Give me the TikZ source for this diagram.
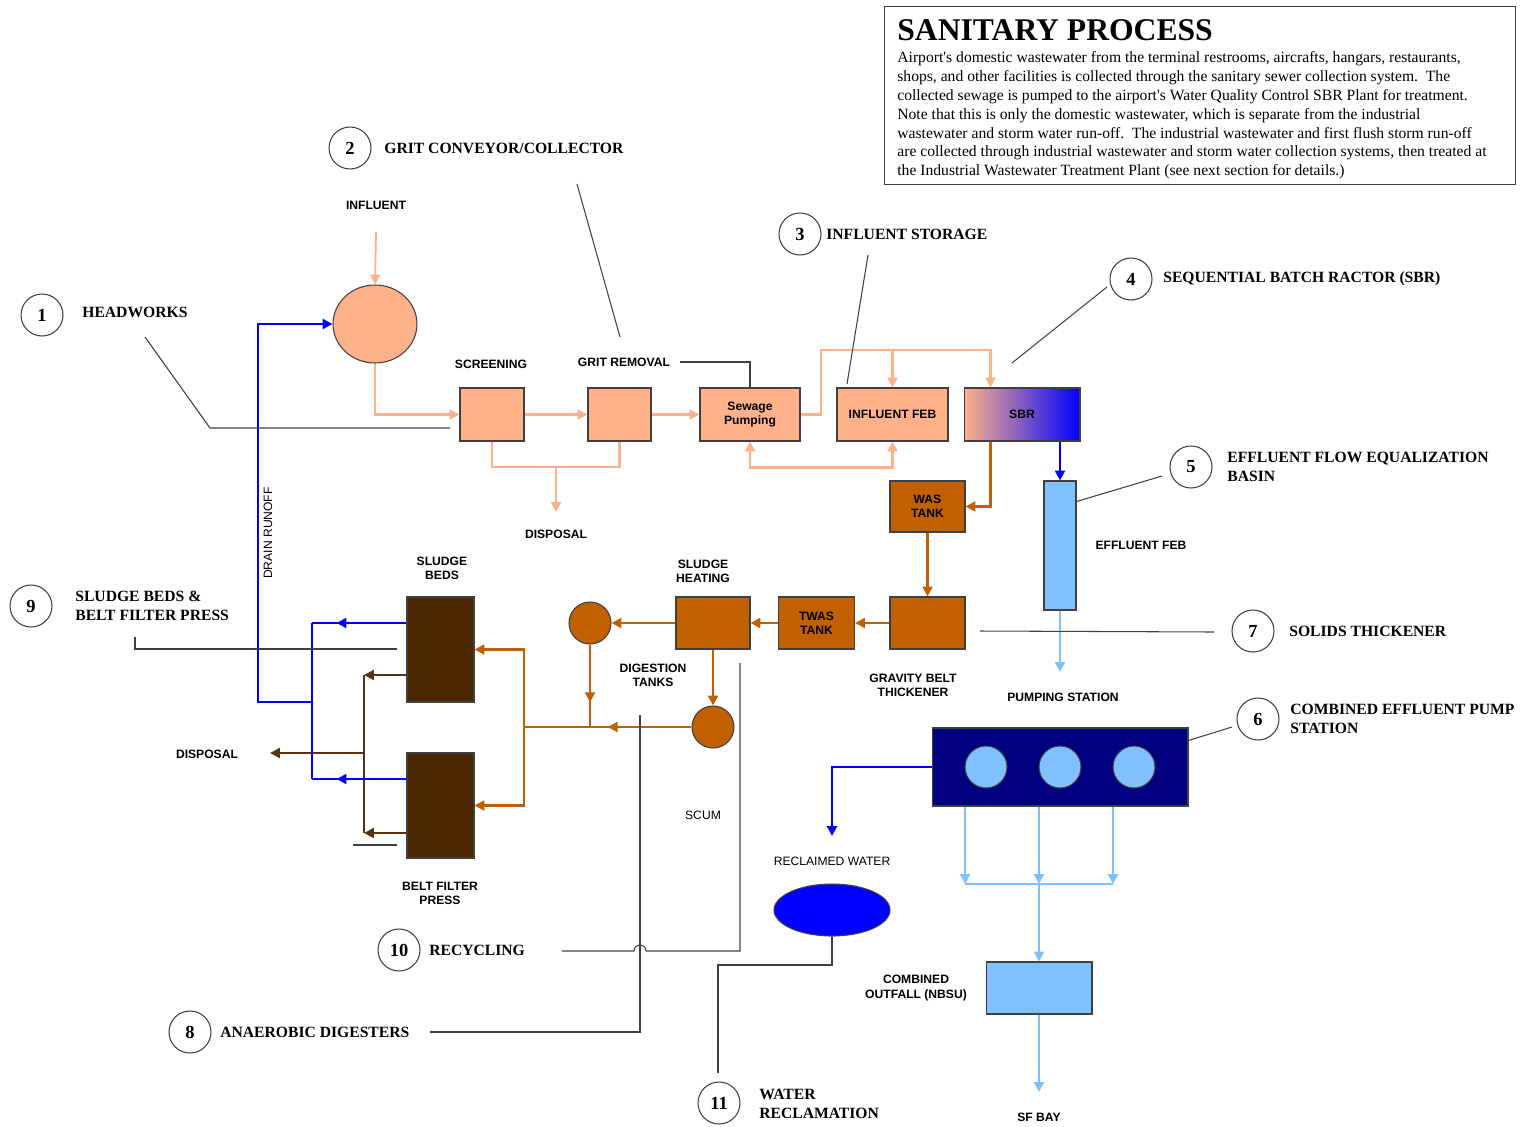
\documentclass[tikz,border=0pt]{standalone}
\usepackage{fontspec}
\setmainfont{Liberation Serif}
\setsansfont{Liberation Sans}
\usepackage{tikz}
\usetikzlibrary{shapes.geometric, arrows.meta, positioning, calc, decorations.markings}
\usepackage{xcolor}
\definecolor{peach}{HTML}{FFB18A}
\definecolor{rust}{HTML}{C06000}
\definecolor{sludge}{HTML}{4A2600}
\definecolor{mud}{HTML}{5A3212}
\definecolor{sky}{HTML}{80C0FF}
\definecolor{deepnavy}{HTML}{000080}
\definecolor{pureblue}{HTML}{0000FF}
\definecolor{edge}{HTML}{404040}

\tikzset{
    lbl/.style={inner sep=0pt, align=center, font=\sffamily\bfseries\fontsize{6.9}{8}\selectfont},
    plainlbl/.style={inner sep=0pt, align=center, font=\sffamily\fontsize{6.9}{8}\selectfont},
    proc/.style={draw=edge, line width=0.6pt, inner sep=0pt, align=center, font=\sffamily\bfseries\fontsize{6.9}{8}\selectfont},
    callnum/.style={circle, draw=edge, line width=0.6pt, minimum size=0.84cm, inner sep=0pt, font=\bfseries\fontsize{10.5}{12}\selectfont},
    calltext/.style={anchor=west, align=left, inner sep=0pt, font=\bfseries\fontsize{8.9}{10.4}\selectfont},
    leader/.style={draw=edge, line width=0.6pt},
    peachflow/.style={peach, line width=1.6pt},
    rustflow/.style={rust, line width=1.6pt},
    mudflow/.style={mud, line width=1.6pt},
    blueflow/.style={pureblue, line width=1.6pt},
    skyflow/.style={sky, line width=1.6pt},
    midtip/.style={postaction={decorate}, decoration={markings, mark=at position #1 with {\arrow{>}}}}
}

\begin{document}
\begin{tikzpicture}[x=0.02cm, y=-0.02cm, >={Triangle[length=5.6pt, width=5.6pt]}]
\useasboundingbox (0,0) rectangle (1520,1126);

% description box
\node[draw=edge, line width=0.6pt, minimum width=12.62cm, minimum height=3.56cm, anchor=north west] (frame) at (884,6) {};
\node[anchor=base west, inner sep=0pt, font=\bfseries\fontsize{18}{20}\selectfont] (ttl) at ($(frame.north west)+(13,34)$) {SANITARY PROCESS};
\node[anchor=north west, align=left, inner sep=0pt, font=\fontsize{8.9}{10.77}\selectfont] (desc) at ($(frame.north west)+(13,45)$) {Airport\textquotesingle s domestic wastewater from the terminal restrooms, aircrafts, hangars, restaurants,\\
shops, and other facilities is collected through the sanitary sewer collection system.\ \ The\\
collected sewage is pumped to the airport\textquotesingle s Water Quality Control SBR Plant for treatment.\\
Note that this is only the domestic wastewater, which is separate from the industrial\\
wastewater and storm water run-off.\ \ The industrial wastewater and first flush storm run-off\\
are collected through industrial wastewater and storm water collection systems, then treated at\\
the Industrial Wastewater Treatment Plant (see next section for details.)};

% headworks and influent storage
\node[ellipse, draw=edge, line width=0.6pt, fill=peach, minimum width=1.68cm, minimum height=1.56cm] (infl) at (375,324) {};
\node[proc, fill=peach, minimum width=1.28cm, minimum height=1.06cm] (scr) at (492,414.5) {};
\node[proc, fill=peach, minimum width=1.26cm, minimum height=1.06cm] (grit) at (619.5,414.5) {};
\node[proc, fill=peach, minimum width=2cm, minimum height=1.06cm] (pump) at (750,414.5) {Sewage\\Pumping};
\node[proc, fill=peach, minimum width=2.22cm, minimum height=1.06cm] (ifeb) at (892.5,414.5) {INFLUENT FEB};
\node[proc, left color=peach, right color=pureblue, minimum width=2.32cm, minimum height=1.06cm] (sbr) at (1022,414.5) {SBR};

% solids line
\node[proc, fill=rust, minimum width=1.5cm, minimum height=1.02cm] (was) at (927.5,506.5) {WAS\\TANK};
\node[proc, fill=rust, minimum width=1.5cm, minimum height=1.04cm] (gbt) at (927.5,623) {};
\node[proc, fill=rust, minimum width=1.52cm, minimum height=1.04cm] (twas) at (816.5,623) {TWAS\\TANK};
\node[proc, fill=rust, minimum width=1.48cm, minimum height=1.04cm] (heat) at (713,623) {};
\node[circle, draw=edge, line width=0.6pt, fill=rust, minimum size=0.84cm] (dig1) at (590,623) {};
\node[circle, draw=edge, line width=0.6pt, fill=rust, minimum size=0.84cm] (dig2) at (713,727) {};
\node[proc, fill=sludge, minimum width=1.34cm, minimum height=2.1cm] (bed1) at (440.5,649.5) {};
\node[proc, fill=sludge, minimum width=1.34cm, minimum height=2.1cm] (bed2) at (440.5,805.5) {};

% effluent line
\node[proc, fill=sky, minimum width=0.64cm, minimum height=2.58cm] (efeb) at (1060,545.5) {};
\node[proc, fill=deepnavy, minimum width=5.12cm, minimum height=1.56cm] (pst) at (1060,767) {};
\foreach \x/\n in {986/pa, 1060/pb, 1134/pc}
    \node[circle, draw=edge, line width=0.6pt, fill=sky, minimum size=0.84cm] (\n) at (\x,767) {};
\node[proc, fill=sky, minimum width=2.12cm, minimum height=1.04cm] (outf) at (1039,988) {};
\node[ellipse, draw=edge, line width=0.6pt, fill=pureblue, minimum width=2.32cm, minimum height=1.04cm] (recl) at (832,910) {};

% labels
\node[lbl] (inflab) at (376,205) {INFLUENT};
\node[lbl] (scrlab) at (491,364) {SCREENING};
\node[lbl] (grlab) at (624,362) {GRIT REMOVAL};
\node[lbl] (dsplab) at (556,534) {DISPOSAL};
\node[lbl] (efeblab) at (1141,545) {EFFLUENT FEB};
\node[lbl] (bedlab) at (442,568) {SLUDGE\\BEDS};
\node[lbl] (heatlab) at (703,571) {SLUDGE\\HEATING};
\node[lbl] (diglab) at (653,675) {DIGESTION\\TANKS};
\node[lbl] (gbtlab) at (913,685) {GRAVITY BELT\\THICKENER};
\node[lbl] (pstlab) at (1063,697) {PUMPING STATION};
\node[lbl] (dsp2lab) at (207,754) {DISPOSAL};
\node[lbl] (bfplab) at (440,893) {BELT FILTER\\PRESS};
\node[lbl] (outflab) at (916,988) {COMBINED\\OUTFALL (NBSU)};
\node[lbl] (sfblab) at (1039,1117) {SF BAY};
\node[plainlbl] (scumlab) at (703,815) {SCUM};
\node[plainlbl] (recllab) at (832,861) {RECLAIMED WATER};
\node[plainlbl, rotate=90] (drlab) at (268,533) {DRAIN RUNOFF};

% free ends
\coordinate (infsrc) at (376,232);
\coordinate (dspjoin) at (556,467);
\coordinate (dspend) at (556,512);
\coordinate (ptop) at (821,350);
\coordinate (pstend) at (1060,672);
\coordinate (obus) at (524,727);
\coordinate (bb1) at (312,623);
\coordinate (bb2) at (312,779);
\coordinate (drn) at (258,702);
\coordinate (db1) at (364,675);
\coordinate (db2) at (364,833);
\coordinate (dspl) at (270,753);
\coordinate (rcw) at (832,836);
\coordinate (sfb) at (1039,1092);
\foreach \x/\n in {965/la, 1039/lb, 1113/lc}
    \coordinate (\n) at (\x,884);

% influent flow
\draw[peach, line width=1pt, ->] (infsrc) -- (infl.north);
\draw[peachflow, ->] (infl.south) |- (scr.west);
\draw[peachflow, ->] (scr.east) -- (grit.west);
\draw[peachflow, ->] (grit.east) -- (pump.west);
\draw[peachflow] (scr.south) |- (dspjoin) -| (grit.south);
\draw[peachflow, ->] (dspjoin) -- (dspend);
\draw[peachflow, ->] (pump.east) -| (ptop) -| ($(sbr.north west)+(27,0)$);
\draw[peachflow, ->] (ifeb.north |- ptop) -- (ifeb.north);
\draw[peachflow, <->] (pump.south) -- ++(0,26) -| (ifeb.south);

% sludge flow
\draw[rustflow, ->] ($(sbr.south west)+(27,0)$) |- (was.east);
\draw[rustflow, ->] (was.south) -- (gbt.north);
\draw[rustflow, ->] (gbt.west) -- (twas.east);
\draw[rustflow, ->] (twas.west) -- (heat.east);
\draw[rustflow, ->] (heat.west) -- (dig1.east);
\draw[rustflow, ->] (heat.south) -- (dig2.north);
\draw[rustflow, midtip=0.7] (dig1.south) -- (dig1.south |- obus);
\draw[rustflow, midtip=0.5] (dig2.west) -- (obus);
\draw[rustflow, ->] (obus) |- (bed1.east);
\draw[rustflow, ->] (obus) |- (bed2.east);
\draw[mudflow, ->] (bed1.west |- db1) -- (db1);
\draw[mudflow, ->] (bed2.west |- db2) -- (db2);
\draw[mudflow] (db1) -- (db2);
\draw[mudflow, ->] (db1 |- dspl) -- (dspl);
\draw[blueflow, midtip=0.74] (bed1.west |- bb1) -- (bb1);
\draw[blueflow, midtip=0.74] (bed2.west |- bb2) -- (bb2);
\draw[blueflow] (bb1) -- (bb2);
\draw[blueflow, ->] (bb1 |- drn) -- (drn) |- (infl.west);

% effluent flow
\draw[blueflow, ->] (efeb.north |- sbr.south) -- (efeb.north);
\draw[skyflow, ->] (efeb.south) -- (pstend);
\foreach \n in {la, lb, lc}
    \draw[skyflow, ->] (pst.south -| \n) -- (\n);
\draw[skyflow] (la) -- (lc);
\draw[skyflow, ->] (lb) -- (outf.north);
\draw[skyflow, ->] (outf.south) -- (sfb);
\draw[blueflow, ->] (pst.west) -| (rcw);

% callouts
\foreach \n/\x/\y in {1/42/315, 2/350/148, 3/800/234, 4/1131/279, 5/1191/467, 6/1258/719, 7/1253/631, 8/190/1032, 9/31/606, 10/399/950, 11/719/1103}
    \node[callnum] (c\n) at (\x,\y) {\n};
\node[calltext] (t1) at (82,312) {HEADWORKS};
\node[calltext] (t2) at (384,148) {GRIT CONVEYOR/COLLECTOR};
\node[calltext] (t3) at (826,234) {INFLUENT STORAGE};
\node[calltext] (t4) at (1163,279) {SEQUENTIAL BATCH RACTOR (SBR)};
\node[calltext] (t5) at (1227,467) {EFFLUENT FLOW EQUALIZATION\\BASIN};
\node[calltext] (t6) at (1290,719) {COMBINED EFFLUENT PUMP\\STATION};
\node[calltext] (t7) at (1289,631) {SOLIDS THICKENER};
\node[calltext] (t8) at (220,1032) {ANAEROBIC DIGESTERS};
\node[calltext] (t9) at (75,606) {SLUDGE BEDS \&\\BELT FILTER PRESS};
\node[calltext] (t10) at (429,950) {RECYCLING};
\node[calltext] (t11) at (759,1104) {WATER\\RECLAMATION};

% leader lines
\draw[leader] (145,337) -- (210,428) -- (450,428);
\draw[leader] (577,184) -- (620,337);
\draw[leader] (868,255) -- (847,384);
\draw[leader] (1107,287) -- (1012,363);
\draw[leader] (1162,476) -- ($(efeb.north east)+(0,21)$);
\draw[leader] (1232,727) -- ($(pst.north east)+(0,13)$);
\draw[leader] (1214,632) -- (980,631);
\draw[leader] (430,1032) -| (640,715);
\draw[leader] (135,637) |- (397,649);
\draw[leader] (353,845) -- (397,845);
\draw[leader] (562,951) -- (634,951) arc[start angle=180, end angle=0, radius=0.12cm] -- (740,951) -- (740,663);
\draw[leader] (718,1073) |- (832,965) -- (recl.south);
\draw[leader] ($(grlab.east)+(10,0)$) -| (pump.north);
\end{tikzpicture}
\end{document}
